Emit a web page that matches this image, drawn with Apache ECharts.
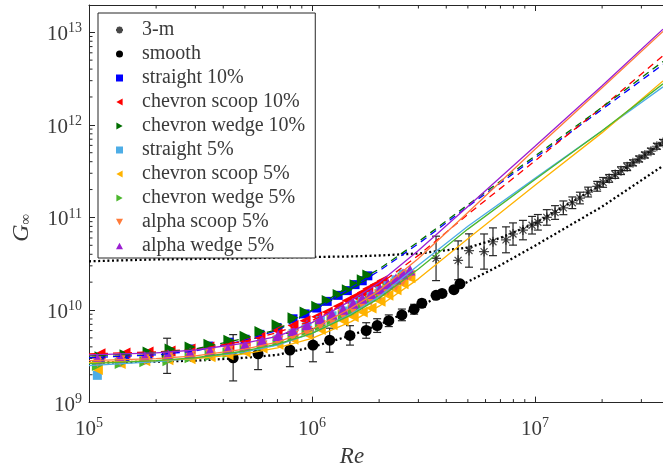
<!DOCTYPE html>
<html>
<head>
<meta charset="utf-8">
<script src="https://cdn.jsdelivr.net/npm/echarts@6/dist/echarts.min.js"></script>
<style>
html,body{margin:0;padding:0;background:#fff;}
#chart{width:663px;height:473px;}
</style>
</head>
<body>
<div id="chart"></div>
<script>
// axis ranges
var reMin = 1e5, reMax = 3.75e7;
var gMin = 1e9, gMax = 1.97e13;

// 3-m data, error bars are half widths in decades
var reThreeM = [3.60e6, 4.52e6, 5.06e6, 5.91e6, 6.48e6, 7.41e6, 7.97e6, 8.83e6, 9.70e6, 1.03e7, 1.13e7, 1.23e7, 1.34e7, 1.47e7,
	1.59e7, 1.73e7, 1.90e7, 2.02e7, 2.15e7, 2.29e7, 2.43e7, 2.59e7, 2.75e7, 2.93e7, 3.11e7, 3.31e7, 3.52e7, 3.75e7];
var gThreeM = [3.61e10, 3.44e10, 4.39e10, 4.28e10, 5.46e10, 5.73e10, 6.62e10, 7.30e10, 8.24e10, 8.86e10, 1.00e11, 1.13e11, 1.27e11, 1.44e11,
	1.62e11, 1.88e11, 2.17e11, 2.39e11, 2.64e11, 2.91e11, 3.20e11, 3.53e11, 3.89e11, 4.28e11, 4.72e11, 5.20e11, 5.87e11, 6.46e11];
var errThreeM = [0.24, 0.21, 0.18, 0.19, 0.15, 0.14, 0.12, 0.105, 0.095, 0.084, 0.084, 0.074, 0.074, 0.063,
	0.063, 0.053, 0.053, 0.053, 0.042, 0.042, 0.042, 0.042, 0.032, 0.032, 0.032, 0.032, 0.032, 0.032];

// smooth wall
var reSmooth = [2.24e5, 4.43e5, 5.73e5, 7.96e5, 1.01e6, 1.20e6, 1.48e6, 1.75e6, 1.96e6, 2.21e6, 2.53e6, 2.87e6, 3.11e6, 3.60e6, 3.83e6, 4.33e6, 4.61e6];
var gSmooth = [3.20e9, 3.05e9, 3.36e9, 3.70e9, 4.18e9, 4.72e9, 5.32e9, 6.01e9, 6.79e9, 7.66e9, 8.86e9, 1.02e10, 1.18e10, 1.44e10, 1.51e10, 1.66e10, 1.92e10];
var errSmooth = [0.19, 0.25, 0.17, 0.18, 0.18, 0.13, 0.105, 0.084, 0.074, 0.063, 0.063, 0.053, 0.042, 0, 0, 0, 0];

// riblet surfaces, 10%
var re10 = [1.12e5, 1.45e5, 1.84e5, 2.31e5, 2.84e5, 3.45e5, 4.24e5, 5.01e5, 5.84e5, 6.97e5, 8.22e5, 9.31e5, 1.05e6, 1.17e6, 1.31e6, 1.44e6, 1.56e6, 1.68e6, 1.78e6];
var gStraight10 = [2.98e9, 3.12e9, 3.28e9, 3.53e9, 3.79e9, 4.08e9, 4.49e9, 4.83e9, 5.46e9, 6.46e9, 8.04e9, 9.08e9, 1.05e10, 1.24e10, 1.44e10, 1.62e10, 1.88e10, 2.07e10, 2.34e10];
var gChevWedge10 = [3.12e9, 3.28e9, 3.53e9, 3.79e9, 3.98e9, 4.28e9, 4.72e9, 5.20e9, 5.87e9, 6.95e9, 8.24e9, 9.53e9, 1.10e10, 1.27e10, 1.47e10, 1.66e10, 1.88e10, 2.12e10, 2.39e10];
var reChevScoop10 = [1.12e5, 1.45e5, 1.84e5, 2.31e5, 2.84e5, 3.45e5, 4.24e5, 5.01e5, 5.84e5, 6.97e5, 8.22e5, 9.31e5, 1.05e6, 1.17e6, 1.31e6, 1.44e6, 1.56e6, 1.68e6, 1.78e6, 1.92e6, 2.06e6];
var gChevScoop10 = [3.36e9, 3.44e9, 3.53e9, 3.61e9, 3.79e9, 3.98e9, 4.18e9, 4.60e9, 5.07e9, 6.01e9, 6.79e9, 7.66e9, 8.44e9, 9.53e9, 1.10e10, 1.27e10, 1.40e10, 1.55e10, 1.70e10, 1.88e10, 2.07e10];

// riblet surfaces, 5%
var re5 = [1.09e5, 1.38e5, 1.78e5, 2.26e5, 2.84e5, 3.49e5, 4.20e5, 5.01e5, 5.97e5, 7.04e5, 8.22e5, 9.50e5, 1.09e6, 1.23e6, 1.38e6, 1.53e6, 1.68e6, 1.84e6, 2.02e6, 2.19e6, 2.38e6, 2.56e6, 2.75e6];
var gStraight5 = [1.97e9, 2.70e9, 2.91e9, 3.05e9, 3.12e9, 3.28e9, 3.53e9, 3.79e9, 4.28e9, 4.83e9, 5.59e9, 6.62e9, 7.66e9, 8.65e9, 9.76e9, 1.13e10, 1.24e10, 1.40e10, 1.62e10, 1.83e10, 2.12e10, 2.45e10];
var gChevScoop5 = [2.28e9, 2.64e9, 2.84e9, 2.91e9, 2.98e9, 3.12e9, 3.28e9, 3.53e9, 3.89e9, 4.28e9, 4.83e9, 5.46e9, 6.16e9, 6.95e9, 7.66e9, 8.44e9, 9.53e9, 1.05e10, 1.24e10, 1.44e10, 1.66e10, 1.92e10, 2.23e10];
var gChevWedge5 = [2.51e9, 2.64e9, 2.77e9, 2.84e9, 3.05e9, 3.20e9, 3.44e9, 3.70e9, 4.08e9, 4.60e9, 5.20e9, 6.01e9, 6.79e9, 7.85e9, 8.86e9, 1.00e10, 1.13e10, 1.27e10, 1.47e10, 1.70e10, 1.92e10, 2.23e10];
var gAlphaScoop5 = [2.77e9, 2.84e9, 2.91e9, 3.05e9, 3.20e9, 3.36e9, 3.61e9, 3.79e9, 4.08e9, 4.60e9, 5.20e9, 5.87e9, 6.79e9, 7.66e9, 8.86e9, 1.00e10, 1.13e10, 1.27e10, 1.44e10, 1.62e10, 1.83e10, 2.07e10, 2.34e10];
var gAlphaWedge5 = [2.98e9, 3.05e9, 3.12e9, 3.28e9, 3.44e9, 3.61e9, 3.79e9, 4.18e9, 4.72e9, 5.32e9, 6.01e9, 6.95e9, 8.04e9, 9.08e9, 1.02e10, 1.18e10, 1.34e10, 1.51e10, 1.70e10, 1.92e10, 2.17e10, 2.45e10, 2.70e10];

// fitted curves
var fitRe = [1e5, 2e5, 3e5, 5e5, 7e5, 1e6, 1.5e6, 2e6, 3e6, 5e6, 1e7, 2e7, 3.75e7];
var fitStraight10 = [3.05e9, 3.28e9, 3.61e9, 4.72e9, 6.01e9, 9.76e9, 1.75e10, 2.64e10, 5.20e10, 1.31e11, 4.39e11, 1.47e12, 4.50e12];
var fitChevScoop10 = [3.36e9, 3.53e9, 3.79e9, 4.60e9, 5.73e9, 7.66e9, 1.27e10, 1.88e10, 3.89e10, 1.08e11, 4.08e11, 1.55e12, 5.59e12];
var fitChevWedge10 = [3.20e9, 3.44e9, 3.79e9, 4.95e9, 6.16e9, 1.00e10, 1.88e10, 2.77e10, 5.46e10, 1.37e11, 4.60e11, 1.55e12, 4.83e12];
var fitStraight5 = [2.51e9, 2.77e9, 2.98e9, 3.53e9, 4.18e9, 5.59e9, 9.08e9, 1.40e10, 3.05e10, 8.04e10, 2.64e11, 8.65e11, 2.57e12];
var fitChevScoop5 = [2.70e9, 2.84e9, 2.98e9, 3.36e9, 3.89e9, 4.95e9, 7.48e9, 1.10e10, 2.17e10, 5.87e10, 2.23e11, 8.24e11, 2.98e12];
var fitChevWedge5 = [2.64e9, 2.84e9, 3.05e9, 3.61e9, 4.28e9, 5.59e9, 8.86e9, 1.34e10, 2.77e10, 7.48e10, 2.57e11, 8.65e11, 2.77e12];
var fitAlphaScoop5 = [2.84e9, 2.98e9, 3.20e9, 3.79e9, 4.49e9, 6.16e9, 1.05e10, 1.62e10, 3.61e10, 1.13e11, 5.46e11, 2.51e12, 1.02e13];
var fitAlphaWedge5 = [3.28e9, 3.44e9, 3.70e9, 4.39e9, 5.20e9, 7.30e9, 1.27e10, 1.97e10, 4.39e10, 1.31e11, 5.87e11, 2.64e12, 1.08e13];

// model curves (dotted)
var modelRe = [1e5, 2e5, 3e5, 5e5, 7e5, 1e6, 1.5e6, 2e6, 3e6, 5e6, 7e6, 1e7, 2e7, 3.75e7];
var modelThreeM = [3.36e10, 3.52e10, 3.56e10, 3.61e10, 3.70e10, 3.74e10, 3.79e10, 3.88e10, 4.08e10, 4.72e10, 6.01e10, 8.65e10, 2.28e11, 6.46e11];
var modelSmooth = [2.70e9, 2.77e9, 2.84e9, 3.05e9, 3.28e9, 3.98e9, 5.32e9, 6.95e9, 1.08e10, 2.02e10, 3.05e10, 4.95e10, 1.31e11, 3.61e11];

var FONT = '"Liberation Serif", "Times New Roman", serif';
var TXT = '#3a3a3a';

function pairs(xs, ys) {
	var out = [];
	for (var i = 0; i < ys.length; i++) out.push([xs[i], ys[i]]);
	return out;
}
function triples(xs, ys, es) {
	var out = [];
	for (var i = 0; i < ys.length; i++) if (es[i] > 0) out.push([xs[i], ys[i], es[i]]);
	return out;
}

// minor tick positions 2..9 x 10^n inside the ranges
var minorTicks = [];
for (var e = 5; e <= 7; e++) {
	for (var m = 2; m <= 9; m++) {
		var v = m * Math.pow(10, e);
		if (v < reMax) minorTicks.push([v, gMin, 0]);
	}
}
for (var e2 = 9; e2 <= 13; e2++) {
	for (var m2 = 2; m2 <= 9; m2++) {
		var v2 = m2 * Math.pow(10, e2);
		if (v2 < gMax) minorTicks.push([reMin, v2, 1]);
	}
}

function powLabel(value) {
	var ex = Math.round(Math.log(value) / Math.LN10);
	return '{b|10}{s|' + ex + '}';
}
var labelRich = {
	b: {fontFamily: FONT, fontSize: 21, color: TXT, lineHeight: 26},
	s: {fontFamily: FONT, fontSize: 14, color: TXT, lineHeight: 14, verticalAlign: 'top'}
};

function errorRender(params, api) {
	var re = api.value(0), g = api.value(1), f = Math.pow(10, api.value(2));
	var hi = api.coord([re, g * f]);
	var lo = api.coord([re, g / f]);
	var w = 4;
	var st = {stroke: '#262626', lineWidth: 1.2};
	return {
		type: 'group',
		children: [
			{type: 'line', shape: {x1: hi[0], y1: hi[1], x2: lo[0], y2: lo[1]}, style: st},
			{type: 'line', shape: {x1: hi[0] - w, y1: hi[1], x2: hi[0] + w, y2: hi[1]}, style: st},
			{type: 'line', shape: {x1: lo[0] - w, y1: lo[1], x2: lo[0] + w, y2: lo[1]}, style: st}
		]
	};
}

function minorRender(params, api) {
	var cs = params.coordSys;
	var st = {stroke: '#262626', lineWidth: 1};
	var len = 3.5;
	if (api.value(2) === 0) {
		var p = api.coord([api.value(0), gMin]);
		var yb = cs.y + cs.height, yt = cs.y;
		return {
			type: 'group',
			children: [
				{type: 'line', shape: {x1: p[0], y1: yb, x2: p[0], y2: yb - len}, style: st},
				{type: 'line', shape: {x1: p[0], y1: yt, x2: p[0], y2: yt + len}, style: st}
			]
		};
	}
	var q = api.coord([reMin, api.value(1)]);
	return {type: 'line', shape: {x1: cs.x, y1: q[1], x2: cs.x + len, y2: q[1]}, style: st};
}

function markers(name, xs, ys, symbol, size, color) {
	return {
		name: name,
		type: 'scatter',
		data: pairs(xs, ys),
		symbol: symbol,
		symbolSize: size,
		itemStyle: {color: color, opacity: 1},
		z: 3
	};
}
function fitLine(name, ys, color, dashed) {
	return {
		name: name,
		type: 'line',
		data: pairs(fitRe, ys),
		showSymbol: false,
		lineStyle: {color: color, width: 1.3, type: dashed ? [7, 5] : 'solid'},
		z: 4
	};
}
function modelLine(name, ys) {
	return {
		name: name,
		type: 'line',
		data: pairs(modelRe, ys),
		showSymbol: false,
		lineStyle: {color: '#000', width: 2.3, type: [2, 2.6]},
		z: 2
	};
}

var cBlue = '#0000ff', cRed = '#ff0000', cDarkGreen = '#006e00';
var cLightBlue = '#4dade6', cOrange = '#ffb300', cLightGreen = '#4cb72d';
var cOrangeRed = '#ff7b3a', cPurple = '#9b1fd1';
var asterisk = 'path://M5,0L5,10M0,5L10,5M1.5,1.5L8.5,8.5M8.5,1.5L1.5,8.5';
var triLeft = 'path://M0,5L9,0L9,10Z';
var triRight = 'path://M9,5L0,0L0,10Z';
var triDown = 'path://M0,0L10,0L5,9Z';
var triUp = 'path://M0,9L10,9L5,0Z';

var myChart = echarts.init(document.getElementById('chart'), null, {renderer: 'canvas'});
var option = {
	backgroundColor: '#fff',
	animation: false,
	grid: {left: 89, top: 5, right: 0, bottom: 60},
	legend: {
		orient: 'vertical',
		left: 98,
		top: 13,
		padding: [7, 10, 2, 17],
		itemWidth: 7,
		itemHeight: 7,
		itemGap: 4,
		borderColor: '#262626',
		borderWidth: 1,
		backgroundColor: '#fff',
		textStyle: {fontFamily: FONT, fontSize: 20, color: TXT, lineHeight: 20, padding: [0, 0, 0, 14]},
		data: ['3-m', 'smooth', 'straight 10%', 'chevron scoop 10%', 'chevron wedge 10%', 'straight 5%',
			'chevron scoop 5%', 'chevron wedge 5%', 'alpha scoop 5%', 'alpha wedge 5%']
	},
	xAxis: [{
		type: 'log',
		logBase: 10,
		min: reMin,
		max: reMax,
		name: 'Re',
		nameLocation: 'middle',
		nameGap: 36,
		nameTextStyle: {fontFamily: FONT, fontSize: 23, fontStyle: 'italic', color: TXT, padding: [0, 48, 0, 0]},
		axisLine: {lineStyle: {color: '#262626', width: 1}},
		axisTick: {inside: true, length: 6, lineStyle: {color: '#262626'}},
		axisLabel: {formatter: powLabel, rich: labelRich, margin: 14, showMaxLabel: false},
		splitLine: {show: false}
	}, {
		type: 'log',
		logBase: 10,
		min: reMin,
		max: reMax,
		position: 'top',
		axisLine: {lineStyle: {color: '#262626', width: 1}},
		axisTick: {inside: true, length: 6, lineStyle: {color: '#262626'}},
		axisLabel: {show: false},
		splitLine: {show: false}
	}],
	yAxis: {
		type: 'log',
		logBase: 10,
		min: gMin,
		max: gMax,
		name: '{g|G}{s|∞}',
		nameLocation: 'middle',
		nameGap: 55,
		nameTextStyle: {
			padding: [0, 48, 0, 0],
			rich: {
				g: {fontFamily: FONT, fontSize: 24, fontStyle: 'italic', color: TXT},
				s: {fontFamily: FONT, fontSize: 15, color: TXT, verticalAlign: 'bottom', lineHeight: 18}
			}
		},
		axisLine: {lineStyle: {color: '#262626', width: 1}},
		axisTick: {inside: true, length: 6, lineStyle: {color: '#262626'}},
		axisLabel: {formatter: powLabel, rich: labelRich, margin: 7, showMaxLabel: false, padding: [5, 0, 0, 0]},
		splitLine: {show: false}
	},
	series: [
		{
			name: '3-m',
			type: 'scatter',
			data: pairs(reThreeM, gThreeM),
			symbol: asterisk,
			symbolSize: 10,
			itemStyle: {color: '#1a1a1a', borderColor: '#1a1a1a', borderWidth: 1.2},
			z: 3
		},
		markers('smooth', reSmooth, gSmooth, 'circle', 11, '#000'),
		markers('straight 10%', re10, gStraight10, 'rect', 9, cBlue),
		markers('chevron scoop 10%', reChevScoop10, gChevScoop10, triLeft, 11, cRed),
		markers('chevron wedge 10%', re10, gChevWedge10, triRight, 11, cDarkGreen),
		markers('straight 5%', re5, gStraight5, 'rect', 9, cLightBlue),
		markers('chevron scoop 5%', re5, gChevScoop5, triLeft, 11, cOrange),
		markers('chevron wedge 5%', re5, gChevWedge5, triRight, 11, cLightGreen),
		markers('alpha scoop 5%', re5, gAlphaScoop5, triDown, 11, cOrangeRed),
		markers('alpha wedge 5%', re5, gAlphaWedge5, triUp, 11, cPurple),
		{
			name: 'err 3-m', type: 'custom', data: triples(reThreeM, gThreeM, errThreeM),
			renderItem: errorRender, z: 2
		},
		{
			name: 'err smooth', type: 'custom', data: triples(reSmooth, gSmooth, errSmooth),
			renderItem: errorRender, z: 2
		},
		modelLine('model 3-m', modelThreeM),
		modelLine('model smooth', modelSmooth),
		fitLine('fit straight 10%', fitStraight10, cBlue, true),
		fitLine('fit chevron scoop 10%', fitChevScoop10, cRed, true),
		fitLine('fit chevron wedge 10%', fitChevWedge10, cDarkGreen, true),
		fitLine('fit straight 5%', fitStraight5, cLightBlue, false),
		fitLine('fit chevron scoop 5%', fitChevScoop5, cOrange, false),
		fitLine('fit chevron wedge 5%', fitChevWedge5, cLightGreen, false),
		fitLine('fit alpha scoop 5%', fitAlphaScoop5, cOrangeRed, false),
		fitLine('fit alpha wedge 5%', fitAlphaWedge5, cPurple, false),
		{
			name: 'minor ticks', type: 'custom', data: minorTicks,
			renderItem: minorRender, silent: true, z: 1
		}
	]
};
myChart.setOption(option);
</script>
</body>
</html>
